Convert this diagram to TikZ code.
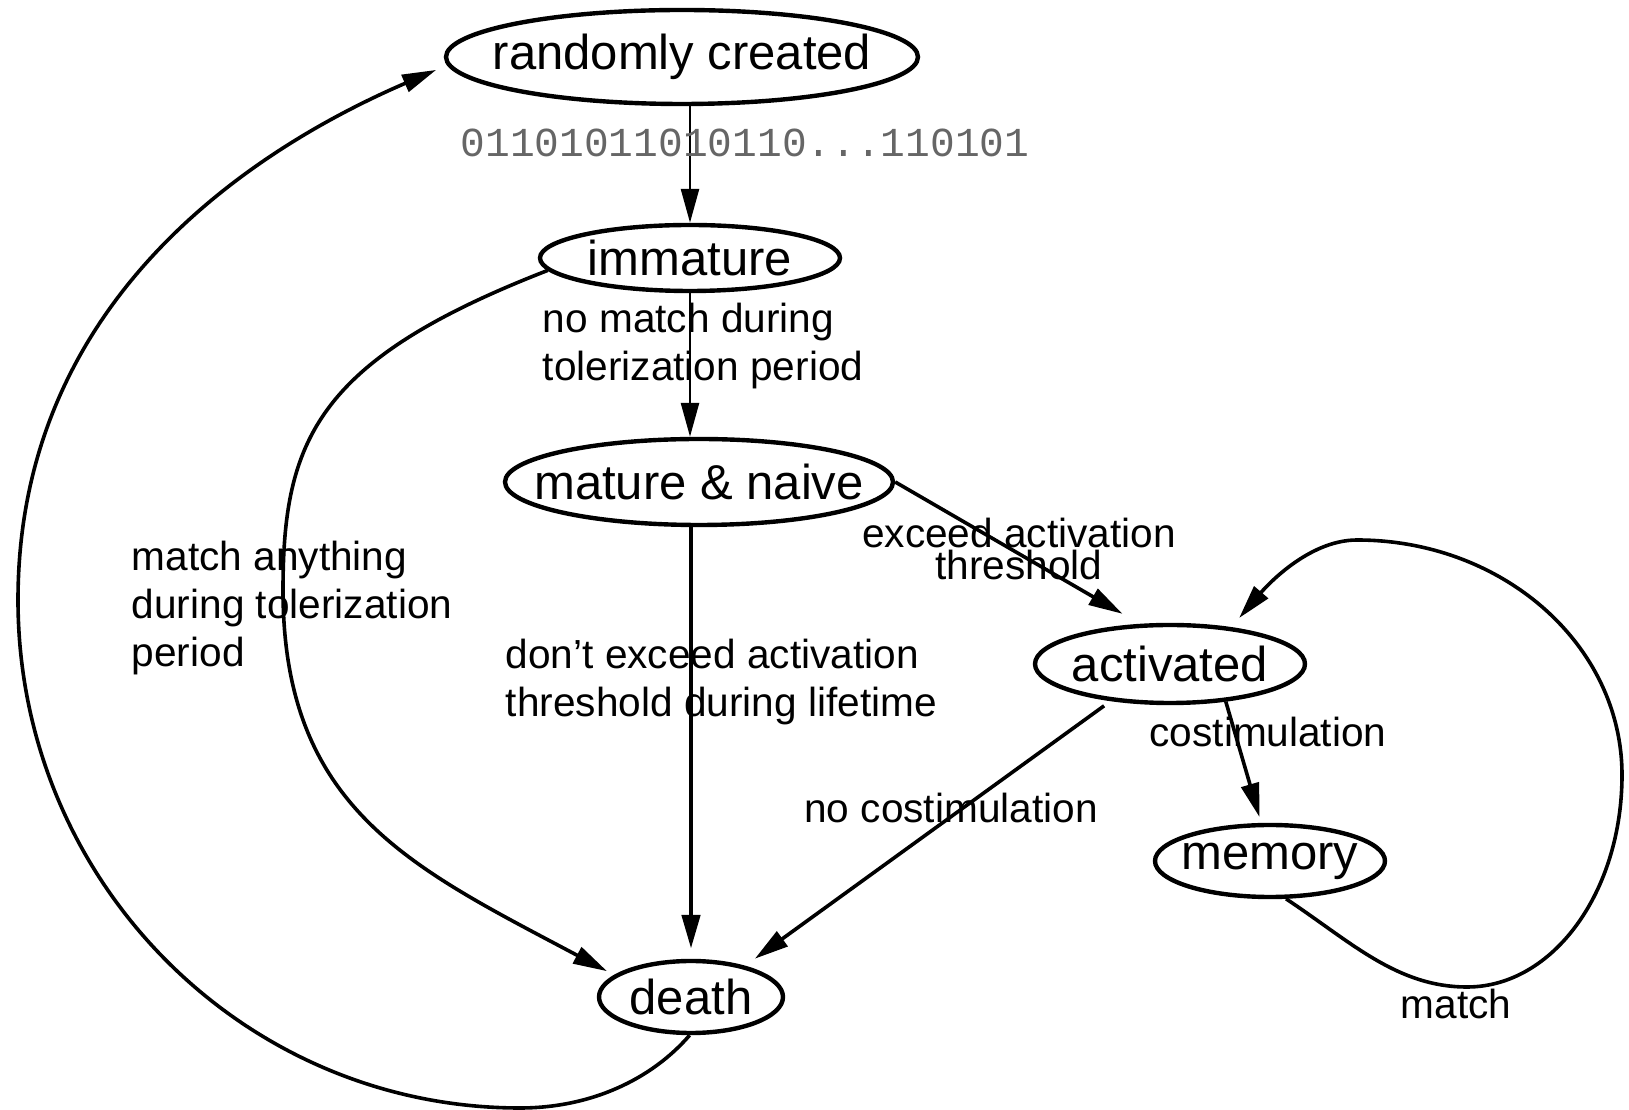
\documentclass[tikz,border=0pt]{standalone}
\usepackage{fontspec}
\setmainfont{Liberation Sans}
\newfontfamily\bitsfont{Liberation Mono}
\usetikzlibrary{arrows.meta,shapes.geometric}

% state names take no width, so each ellipse keeps its given size
\newcommand\statename[1]{\makebox[0pt]{#1}}

\begin{document}
\begin{tikzpicture}[x=0.25pt,y=-0.25pt,
  state/.style={ellipse,draw,line width=1.1pt,inner sep=0pt,
    font=\fontsize{12.25}{14}\selectfont},
  edge/.style={line width=0.9pt,-{Triangle[length=8.5pt,width=4.5pt]}},
  thinedge/.style={edge,line width=0.65pt},
  boldedge/.style={edge,line width=1.2pt},
  lbl/.style={inner sep=0pt,font=\fontsize{10.15}{12}\selectfont},
  bits/.style={inner sep=0pt,text=black!60,font=\bitsfont\fontsize{10.3}{12}\selectfont},
]
\useasboundingbox (0,0) rectangle (1629,1110);

% states of a detector's life cycle
\node[state,minimum width=118pt,minimum height=23.5pt] (rc)  at (682,57)   {\statename{randomly created}};
\node[state,minimum width=75pt,minimum height=16.5pt]  (imm) at (690,258)  {\statename{immature}};
\node[state,minimum width=97pt,minimum height=21.5pt]  (mat) at (699,482)  {\statename{mature \& naive}};
\node[state,minimum width=67.5pt,minimum height=19.5pt](act) at (1170,664) {\statename{activated}};
\node[state,minimum width=57.5pt,minimum height=18pt]  (mem) at (1270,861)  {\statename{memory}};
\node[state,minimum width=46pt,minimum height=18pt]    (dea) at (691,997)  {\statename{death}};

% creation -> immature
\draw[thinedge] (imm |- rc.south) -- (imm.north);
\node[bits] (lbits) at (745,143) {01101011010110...110101};

% immature -> mature & naive
\draw[thinedge] (imm.south) -- (imm.south |- mat.north);
\node[lbl,anchor=west,align=left] (lnomatch) at (542,346) {no match during\\tolerization period};

% immature -> death (negative selection)
\draw[edge,shorten >=2pt] (imm.185) .. controls (317,360) and (283,440) .. (283,590)
  .. controls (283,810) and (413,868) .. (dea.164);
\node[lbl,anchor=west,align=left] (lmatch) at (131,608) {match anything\\during tolerization\\period};

% mature & naive -> death
\draw[boldedge,shorten >=2.5pt] (dea |- mat.south) -- (dea.north);
\node[lbl,anchor=west,align=left] (lnoexc) at (505,682) {don't exceed activation\\threshold during lifetime};

% mature & naive -> activated
\draw[edge,shorten >=5pt] (mat.east) -- (act.127);
\node[lbl,align=center] (lexc) at (1019,549) {exceed activation\\[-3.8pt]threshold};

% activated -> death
\draw[edge,shorten >=3pt,shorten <=2pt] (act.212) -- (dea.30);
\node[lbl] (lnocost) at (951,808) {no costimulation};

% activated -> memory
\draw[edge,shorten >=1.5pt] (act.-34) -- (mem.103);
\node[lbl] (lcost) at (1268,732) {costimulation};

% memory -> activated
\draw[edge,shorten >=3pt] (mem.-67) .. controls (1351,942) and (1397,987) .. (1467,987)
  .. controls (1553,987) and (1622,892) .. (1622,775)
  .. controls (1622,645) and (1503,540) .. (1357,540)
  .. controls (1307,540) and (1264,589) .. (act.31);
\node[lbl] (lmem) at (1456,1004) {match};

% death -> randomly created
\draw[edge,shorten >=3pt] (dea.-92) .. controls (651,1080) and (590,1108) .. (520,1108)
  .. controls (243,1108) and (18,881) .. (18,600)
  .. controls (18,300) and (253,149) .. (rc.182);
\end{tikzpicture}
\end{document}
